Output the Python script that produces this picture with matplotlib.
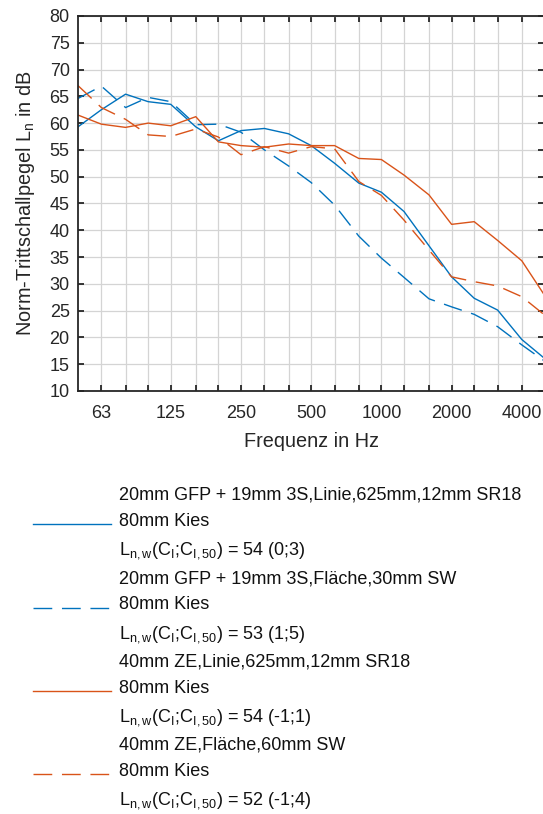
import numpy as np
import matplotlib
matplotlib.use('Agg')
import matplotlib.pyplot as plt

plt.rcParams['font.family'] = ['Liberation Sans', 'DejaVu Sans']
plt.rcParams['mathtext.fontset'] = 'custom'
plt.rcParams['mathtext.rm'] = 'Liberation Sans'
plt.rcParams['mathtext.it'] = 'Liberation Sans:italic'

# third-octave band centre frequencies
freqs = [50, 63, 80, 100, 125, 160, 200, 250, 315, 400, 500, 630, 800,
         1000, 1250, 1600, 2000, 2500, 3150, 4000, 5000]

gfp_linie = [59.3, 62.5, 65.4, 64.0, 63.5, 59.3, 56.7, 58.6, 59.0, 58.0, 55.8,
             52.5, 48.8, 47.1, 43.5, 37.1, 31.3, 27.3, 25.1, 19.6, 16.1]
gfp_flaeche = [64.6, 66.9, 62.9, 64.8, 64.0, 59.7, 59.8, 58.3, 55.0, 52.0, 48.9,
               44.7, 38.9, 34.8, 31.2, 27.2, 25.7, 24.3, 22.0, 18.6, 15.6]
ze_linie = [61.5, 59.8, 59.2, 60.0, 59.5, 61.2, 56.5, 55.8, 55.5, 56.1, 55.8,
            55.8, 53.4, 53.2, 50.3, 46.6, 41.1, 41.6, 38.1, 34.3, 27.9]
ze_flaeche = [67.0, 62.9, 60.7, 57.8, 57.5, 58.9, 57.4, 54.1, 55.6, 54.4, 55.6,
              55.2, 49.1, 46.5, 41.9, 36.3, 31.3, 30.4, 29.6, 27.6, 24.2]

tick_labels = ['63', '125', '250', '500', '1000', '2000', '4000']

labels = [
    '20mm GFP + 19mm 3S,Linie,625mm,12mm SR18\n80mm Kies\n'
    r'L$_{\mathrm{n,w}}$(C$_{\mathrm{I}}$;C$_{\mathrm{I,50}}$) = 54 (0;3)',
    '20mm GFP + 19mm 3S,Fläche,30mm SW\n80mm Kies\n'
    r'L$_{\mathrm{n,w}}$(C$_{\mathrm{I}}$;C$_{\mathrm{I,50}}$) = 53 (1;5)',
    '40mm ZE,Linie,625mm,12mm SR18\n80mm Kies\n'
    r'L$_{\mathrm{n,w}}$(C$_{\mathrm{I}}$;C$_{\mathrm{I,50}}$) = 54 (-1;1)',
    '40mm ZE,Fläche,60mm SW\n80mm Kies\n'
    r'L$_{\mathrm{n,w}}$(C$_{\mathrm{I}}$;C$_{\mathrm{I,50}}$) = 52 (-1;4)',
]

blue = '#0072BD'
orange = '#D95319'
dash = (13.5, 7)

fig = plt.figure(figsize=(5.43, 8.14), dpi=100)
ax = fig.add_axes([0.1436, 0.5197, 0.8590, 0.4607])

ax.plot(freqs, gfp_linie, color=blue, lw=1.0, label=labels[0])
ax.plot(freqs, gfp_flaeche, color=blue, lw=1.0, dashes=dash, label=labels[1])
ax.plot(freqs, ze_linie, color=orange, lw=1.0, label=labels[2])
ax.plot(freqs, ze_flaeche, color=orange, lw=1.0, dashes=dash, label=labels[3])

ax.set_xscale('log')
ax.set_xlim(50, 5000)
ax.set_ylim(10, 80)
ax.set_xticks(freqs[1:-1])
ax.set_xticklabels([str(f) if str(f) in tick_labels else '' for f in freqs[1:-1]])
ax.xaxis.set_minor_locator(matplotlib.ticker.NullLocator())
ax.set_yticks(np.arange(10, 81, 5))

ax.grid(True, color='#d4d4d4', lw=0.9)
ax.set_axisbelow(True)
ax.tick_params(direction='in', top=True, right=True, length=4, width=1.3,
               color='#262626', labelsize=13, labelcolor='#262626')
ax.tick_params(axis='x', pad=10)
ax.tick_params(axis='y', pad=6)
for side in ['left', 'bottom', 'top', 'right']:
    ax.spines[side].set_color('#262626')
    ax.spines[side].set_linewidth(1.3)

ax.set_xlabel('Frequenz in Hz', fontsize=14.3, color='#262626', labelpad=7)
ax.set_ylabel(r'Norm-Trittschallpegel L$_\mathrm{n}$ in dB', fontsize=14.3,
              color='#262626', labelpad=9)

leg = fig.legend(loc='upper left', bbox_to_anchor=(0.061, 0.402),
                 frameon=False, fontsize=13, handlelength=4.33,
                 handletextpad=0.45, labelspacing=0.48, borderpad=0,
                 borderaxespad=0)
for t in leg.get_texts():
    t.set_linespacing(1.72)
    t.set_color('#111111')

fig.savefig('out.png', dpi=100)
